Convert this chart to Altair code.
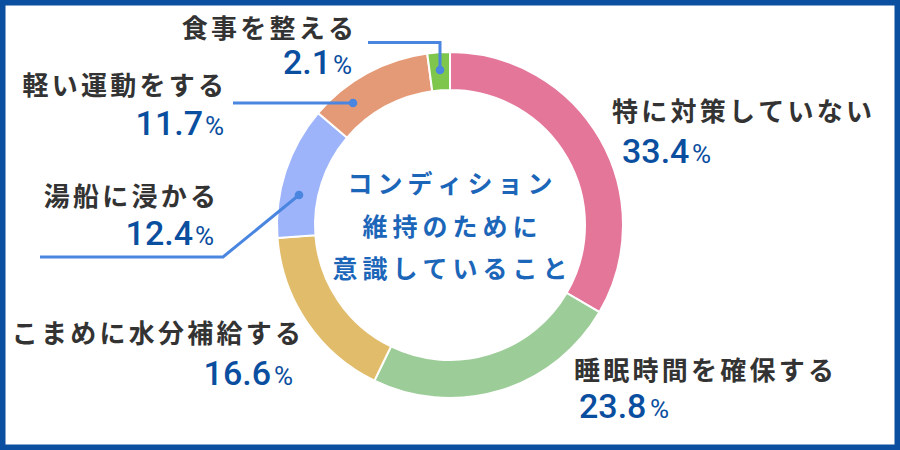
import altair as alt
import pandas as pd

# ---- data ----
categories = ["特に対策していない", "睡眠時間を確保する", "こまめに水分補給する",
              "湯船に浸かる", "軽い運動をする", "食事を整える"]
values = [33.4, 23.8, 16.6, 12.4, 11.7, 2.1]
colors = ["#e4769a", "#9ccc97", "#e1bc6b", "#9db4fb", "#e59a77", "#7ec64c"]
center_lines = ["コンディション", "維持のために", "意識していること"]

# ---- annotation layout (pixel space of the 900x450 frame) ----
label_x = [612, 574, 301, 216, 224, 354]
label_y = [121, 380, 343, 206, 95, 38]
label_align = ["left", "left", "right", "right", "right", "right"]
num_x = [622, 579, 271, 193, 203, 331]
num_y = [163, 418, 385, 245, 135, 74]
num_align = ["left", "left", "right", "right", "right", "right"]
pct_x = [692, 650, 293, 214, 224, 352]
pct_align = ["left", "left", "right", "right", "right", "right"]

leader_group = ["a", "a", "a", "b", "b", "c", "c", "c"]
leader_x = [368, 440, 440, 233, 353, 40, 223, 299]
leader_y = [42.5, 42.5, 70, 103, 103, 257, 257, 195]
dot_x = [440, 353, 299]
dot_y = [70, 103, 195]

center_y = [193, 236, 278]

def spaced(s, sep):
    return sep.join(list(s))

W, H = 900, 450
xs = alt.Scale(domain=[0, W], nice=False, zero=False)
ys = alt.Scale(domain=[0, H], nice=False, zero=False, reverse=True)

pie_df = pd.DataFrame({"category": categories, "value": values,
                       "order": list(range(len(categories)))})

arc = alt.Chart(pie_df).mark_arc(radius=173, radius2=135, stroke="white",
                                 strokeWidth=2).encode(
    theta=alt.Theta("value:Q", stack=True),
    color=alt.Color("category:N", scale=alt.Scale(domain=categories, range=colors),
                    legend=None),
    order=alt.Order("order:Q"),
)

lab_df = pd.DataFrame({
    "text": [spaced(c, "\u200a\u200a") for c in categories], "x": label_x, "y": label_y,
    "align": label_align,
})
def text_layer(df, align, **kw):
    return alt.Chart(df[df["align"] == align]).mark_text(align=align, baseline="alphabetic", **kw).encode(
        x=alt.X("x:Q", scale=xs, axis=None),
        y=alt.Y("y:Q", scale=ys, axis=None),
        text="text:N",
    )

labels = [text_layer(lab_df, a, font="Noto Sans CJK JP", fontSize=26, fontWeight="bold",
                     color="#333333") for a in ["left", "right"]]

num_df = pd.DataFrame({
    "text": [f"{v:.1f}" for v in values], "x": num_x, "y": num_y, "align": num_align,
})
nums = [text_layer(num_df, a, font="Roboto", fontSize=34, fontWeight=500,
                   color="#0a4ea0") for a in ["left", "right"]]

pct_df = pd.DataFrame({
    "text": ["%"] * len(values), "x": pct_x, "y": num_y, "align": pct_align,
})
pcts = [text_layer(pct_df, a, font="Roboto", fontSize=26, fontWeight=400,
                   color="#0a4ea0") for a in ["left", "right"]]

lead_df = pd.DataFrame({"g": leader_group, "x": leader_x, "y": leader_y,
                        "i": list(range(len(leader_x)))})
leaders = alt.Chart(lead_df).mark_line(color="#4a86e0", strokeWidth=3).encode(
    x=alt.X("x:Q", scale=xs, axis=None),
    y=alt.Y("y:Q", scale=ys, axis=None),
    detail="g:N",
    order="i:Q",
)
dots_df = pd.DataFrame({"x": dot_x, "y": dot_y})
dots = alt.Chart(dots_df).mark_circle(color="#4a86e0", opacity=1, size=75).encode(
    x=alt.X("x:Q", scale=xs, axis=None),
    y=alt.Y("y:Q", scale=ys, axis=None),
)

center_df = pd.DataFrame({"text": [spaced(s, "\u2009") for s in center_lines],
                          "x": [W / 2] * 3, "y": center_y})
center = alt.Chart(center_df).mark_text(align="center", baseline="alphabetic",
                                        font="Noto Sans CJK JP", fontSize=25,
                                        fontWeight="bold", color="#1c66b9").encode(
    x=alt.X("x:Q", scale=xs, axis=None),
    y=alt.Y("y:Q", scale=ys, axis=None),
    text="text:N",
)

border = alt.Chart(pd.DataFrame({"k": [0]})).mark_rect(
    fill=None, stroke="#0b4fa0", strokeWidth=6).encode(
    x=alt.value(2.5), x2=alt.value(W - 2.5), y=alt.value(2.5), y2=alt.value(H - 2.5),
)

chart = alt.layer(arc, *labels, *nums, *pcts, leaders, dots, center, border).properties(
    width=W, height=H, padding=0, autosize=alt.AutoSizeParams(type="none"),
    background="white",
).configure_view(stroke=None)

chart.save("out.html", embed_options={"renderer": "svg", "actions": False})
